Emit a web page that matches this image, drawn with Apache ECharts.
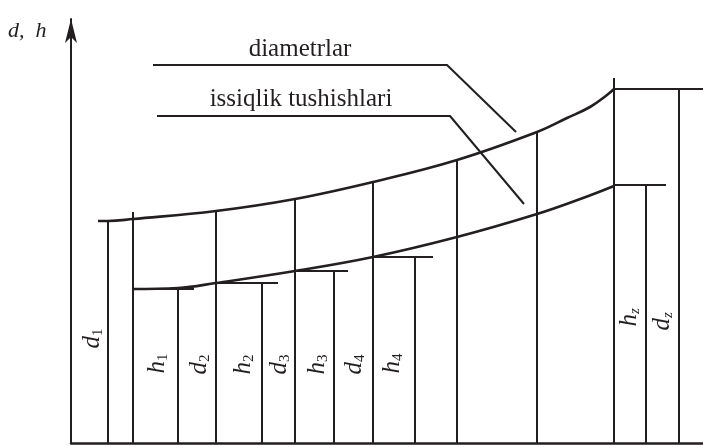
<!DOCTYPE html>
<html>
<head>
<meta charset="utf-8">
<script src="https://cdn.jsdelivr.net/npm/echarts@6/dist/echarts.min.js"></script>
<style>
html, body { margin: 0; padding: 0; background: #fff; }
#chart { width: 703px; height: 446px; }
</style>
</head>
<body>
<div id="chart"></div>
<script>
// diametrlar egri chizig'i
var diamX = [27, 37, 62, 145, 224, 302, 386, 466, 496, 519, 536, 543];
var diamY = [222, 222, 224, 232, 244, 261, 283, 311, 325, 336, 348, 354];
// issiqlik tushishlari egri chizig'i
var heatX = [61, 107, 145, 224, 302, 386, 466, 512, 543];
var heatY = [154, 155, 160, 172, 186, 206, 229, 245, 257];
// vertikal chiziqlar (x, yuqori uchi)
var stemX = [37, 62, 107, 145, 191, 224, 263, 302, 344, 386, 466, 543, 575, 608];
var stemTop = [222, 231, 154, 232, 160, 244, 172, 261, 186, 283, 311, 365, 258, 354];
// gorizontal qopqoqlar
var capFrom = [61, 145, 224, 302, 543, 543];
var capTo = [123, 207, 277, 362, 595, 632];
var capY = [154, 160, 172, 186, 258, 354];
// belgilar
var markMain = ['d', 'h', 'd', 'h', 'd', 'h', 'd', 'h', 'h', 'd'];
var markSub = ['1', '1', '2', '2', '3', '3', '4', '4', 'z', 'z'];
var markX = [21, 86, 128, 172, 208, 246, 283, 321, 558, 591];
var markY = [104, 79, 78, 78, 78, 78, 78, 79, 126, 122];
// izohlar
var noteText = ['diametrlar', 'issiqlik tushishlari'];
var noteX = [229, 230];
var noteY = [394, 344];
var leaderDiam = [[82, 378], [376, 378], [445, 311]];
var leaderHeat = [[86, 327], [379, 327], [453, 239]];

var ink = '#231f20';
var serif = '"Liberation Serif", "DejaVu Serif", serif';

function zip(a, b) {
    return a.map(function(v, i) { return [v, b[i]]; });
}

var chart = echarts.init(document.getElementById('chart'));

var option = {
    backgroundColor: '#fff',
    animation: false,
    grid: { left: 71, right: 0, top: 19, bottom: 3, outerBoundsMode: 'none' },
    xAxis: {
        type: 'value', min: 0, max: 632,
        axisLine: { lineStyle: { color: ink, width: 2.5 } },
        axisTick: { show: false }, axisLabel: { show: false }, splitLine: { show: false }
    },
    yAxis: {
        type: 'value', min: 0, max: 424,
        axisLine: {
            show: true,
            symbol: ['none', 'arrow'],
            symbolSize: [9, 24],
            lineStyle: { color: ink, width: 2 }
        },
        axisTick: { show: false }, axisLabel: { show: false }, splitLine: { show: false }
    },
    graphic: [{
        type: 'text', left: 8, top: 20,
        style: {
            text: 'd,  h', fontStyle: 'italic', fontSize: 22, fontFamily: serif, fill: ink
        }
    }],
    series: [{
        // vertikal chiziqlar
        type: 'custom', silent: true,
        data: zip(stemX, stemTop),
        renderItem: function(params, api) {
            var p0 = api.coord([api.value(0), 0]);
            var p1 = api.coord([api.value(0), api.value(1)]);
            return {
                type: 'line',
                shape: { x1: p0[0], y1: p0[1], x2: p1[0], y2: p1[1] },
                style: { stroke: ink, lineWidth: 2 }
            };
        }
    }, {
        // qopqoqlar
        type: 'custom', silent: true,
        data: capFrom.map(function(v, i) { return [v, capTo[i], capY[i]]; }),
        renderItem: function(params, api) {
            var p0 = api.coord([api.value(0), api.value(2)]);
            var p1 = api.coord([api.value(1), api.value(2)]);
            return {
                type: 'line',
                shape: { x1: p0[0], y1: p0[1], x2: p1[0], y2: p1[1] },
                style: { stroke: ink, lineWidth: 2 }
            };
        }
    }, {
        type: 'line', name: 'diametrlar', silent: true,
        data: zip(diamX, diamY),
        smooth: 0.4, symbol: 'none',
        lineStyle: { color: ink, width: 2.6 }
    }, {
        type: 'line', name: 'issiqlik tushishlari', silent: true,
        data: zip(heatX, heatY),
        smooth: 0.4, symbol: 'none',
        lineStyle: { color: ink, width: 2.6 }
    }, {
        type: 'line', silent: true, data: leaderDiam, symbol: 'none',
        lineStyle: { color: ink, width: 2 }
    }, {
        type: 'line', silent: true, data: leaderHeat, symbol: 'none',
        lineStyle: { color: ink, width: 2 }
    }, {
        // d1, h1 ... belgilari
        type: 'custom', silent: true,
        data: zip(markX, markY),
        renderItem: function(params, api) {
            var i = params.dataIndex;
            var p = api.coord([api.value(0), api.value(1)]);
            var subItalic = markSub[i] === 'z';
            return {
                type: 'group', x: p[0], y: p[1], rotation: Math.PI / 2,
                children: [{
                    type: 'text', x: 3, y: 0,
                    style: {
                        text: markMain[i], fontStyle: 'italic', fontSize: 25, fontFamily: serif,
                        fill: ink, align: 'right', verticalAlign: 'middle'
                    }
                }, {
                    type: 'text', x: 3, y: 6,
                    style: {
                        text: markSub[i], fontStyle: subItalic ? 'italic' : 'normal', fontSize: 15,
                        fontFamily: serif, fill: ink, align: 'left', verticalAlign: 'middle'
                    }
                }]
            };
        }
    }, {
        // izoh matnlari
        type: 'custom', silent: true,
        data: zip(noteX, noteY),
        renderItem: function(params, api) {
            var p = api.coord([api.value(0), api.value(1)]);
            return {
                type: 'text', x: p[0], y: p[1],
                style: {
                    text: noteText[params.dataIndex], fontSize: 25, fontFamily: serif,
                    fill: ink, align: 'center', verticalAlign: 'middle'
                }
            };
        }
    }]
};

chart.setOption(option);
</script>
</body>
</html>
